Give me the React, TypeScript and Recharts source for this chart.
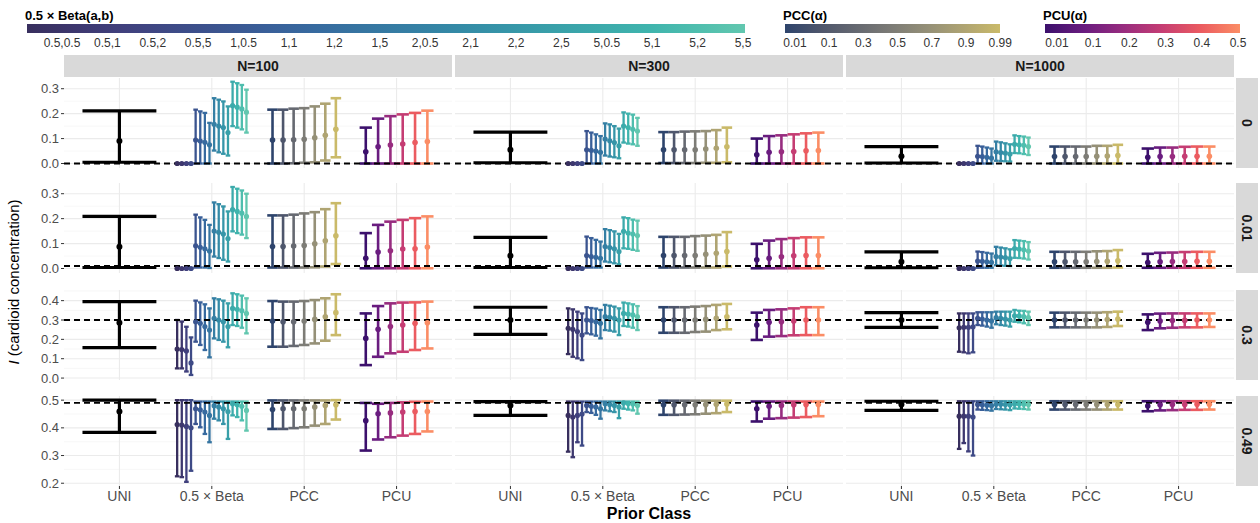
import React from 'react';
import { ScatterChart, Scatter, XAxis, YAxis, ErrorBar, ReferenceLine } from 'recharts';

// ---------- labels ----------
const nLabels = ['N=100', 'N=300', 'N=1000'];
const truthValues = [0, 0.01, 0.3, 0.49];
const truthLabels = ['0', '0.01', '0.3', '0.49'];
const classLabels = ['UNI', '0.5 × Beta', 'PCC', 'PCU'];
const betaLabels = ['0.5,0.5', '0.5,1', '0.5,2', '0.5,5', '1,0.5', '1,1', '1,2', '1,5', '2,0.5', '2,1', '2,2', '2,5', '5,0.5', '5,1', '5,2', '5,5'];
const pccLabels = ['0.01', '0.1', '0.3', '0.5', '0.7', '0.9', '0.99'];
const pcuLabels = ['0.01', '0.1', '0.2', '0.3', '0.4', '0.5'];

// ---------- data: [low, estimate, high] per truth row ----------
const uni_N100 = [[0.005, 0.09, 0.211], [0.004, 0.087, 0.209], [0.157, 0.286, 0.395], [0.384, 0.459, 0.5]];
const uni_N300 = [[0.003, 0.055, 0.126], [0.004, 0.051, 0.125], [0.226, 0.3, 0.366], [0.445, 0.481, 0.495]];
const uni_N1000 = [[0.002, 0.029, 0.068], [0.003, 0.027, 0.067], [0.262, 0.3, 0.338], [0.463, 0.484, 0.496]];

const beta_N100 = [
  [[0, 0, 0.001], [0, 0, 0.001], [0, 0, 0.001], [0, 0, 0.001],
   [0, 0.094, 0.216], [0, 0.09, 0.209], [0, 0.085, 0.203], [0, 0.075, 0.163],
   [0.052, 0.157, 0.262], [0.045, 0.15, 0.256], [0.039, 0.144, 0.249], [0.032, 0.124, 0.229],
   [0.15, 0.232, 0.328], [0.144, 0.226, 0.322], [0.137, 0.219, 0.315], [0.124, 0.206, 0.296]],
  [[0, 0, 0.001], [0, 0, 0.001], [0, 0, 0.001], [0, 0, 0.001],
   [0.004, 0.091, 0.216], [0.004, 0.085, 0.205], [0.004, 0.079, 0.195], [0.002, 0.07, 0.175],
   [0.048, 0.15, 0.265], [0.042, 0.145, 0.258], [0.035, 0.138, 0.249], [0.028, 0.12, 0.229],
   [0.149, 0.236, 0.327], [0.142, 0.229, 0.32], [0.136, 0.222, 0.313], [0.122, 0.209, 0.3]],
  [[0.05, 0.15, 0.3], [0.05, 0.147, 0.292], [0.034, 0.14, 0.265], [0.016, 0.078, 0.21],
   [0.188, 0.291, 0.4], [0.171, 0.283, 0.391], [0.145, 0.266, 0.381], [0.107, 0.248, 0.36],
   [0.205, 0.309, 0.412], [0.197, 0.3, 0.407], [0.188, 0.291, 0.4], [0.159, 0.266, 0.386],
   [0.274, 0.36, 0.438], [0.269, 0.355, 0.433], [0.26, 0.348, 0.426], [0.231, 0.334, 0.412]],
  [[0.225, 0.412, 0.5], [0.222, 0.41, 0.5], [0.205, 0.405, 0.5], [0.245, 0.4, 0.5],
   [0.414, 0.469, 0.495], [0.402, 0.465, 0.495], [0.378, 0.457, 0.495], [0.348, 0.445, 0.495],
   [0.433, 0.48, 0.495], [0.427, 0.475, 0.495], [0.414, 0.469, 0.495], [0.36, 0.459, 0.495],
   [0.445, 0.487, 0.495], [0.439, 0.483, 0.495], [0.427, 0.478, 0.495], [0.39, 0.463, 0.495]],
];
const beta_N300 = [
  [[0, 0, 0.001], [0, 0, 0.001], [0, 0, 0.001], [0, 0, 0.001],
   [0, 0.055, 0.13], [0, 0.053, 0.124], [0, 0.05, 0.117], [0, 0.045, 0.11],
   [0.032, 0.098, 0.161], [0.028, 0.091, 0.157], [0.025, 0.084, 0.15], [0.021, 0.071, 0.14],
   [0.084, 0.15, 0.205], [0.08, 0.144, 0.2], [0.077, 0.137, 0.196], [0.071, 0.13, 0.183]],
  [[0, 0, 0.001], [0, 0, 0.001], [0, 0, 0.001], [0, 0, 0.001],
   [0.004, 0.052, 0.128], [0.004, 0.048, 0.122], [0.004, 0.045, 0.115], [0.004, 0.041, 0.108],
   [0.028, 0.088, 0.158], [0.025, 0.084, 0.154], [0.021, 0.079, 0.149], [0.017, 0.068, 0.139],
   [0.081, 0.149, 0.205], [0.079, 0.142, 0.202], [0.075, 0.138, 0.196], [0.071, 0.132, 0.192]],
  [[0.124, 0.257, 0.36], [0.11, 0.252, 0.355], [0.102, 0.24, 0.343], [0.093, 0.222, 0.334],
   [0.231, 0.3, 0.366], [0.226, 0.297, 0.362], [0.219, 0.291, 0.359], [0.205, 0.283, 0.352],
   [0.248, 0.317, 0.378], [0.245, 0.314, 0.374], [0.24, 0.309, 0.369], [0.222, 0.3, 0.36],
   [0.269, 0.334, 0.39], [0.266, 0.331, 0.386], [0.26, 0.326, 0.381], [0.248, 0.317, 0.372]],
  [[0.314, 0.445, 0.495], [0.294, 0.439, 0.495], [0.348, 0.445, 0.495], [0.336, 0.45, 0.495],
   [0.457, 0.481, 0.495], [0.454, 0.478, 0.495], [0.447, 0.475, 0.495], [0.433, 0.469, 0.495],
   [0.463, 0.487, 0.495], [0.46, 0.484, 0.495], [0.457, 0.481, 0.495], [0.435, 0.475, 0.495],
   [0.469, 0.49, 0.495], [0.466, 0.488, 0.495], [0.463, 0.486, 0.495], [0.451, 0.481, 0.495]],
];
const beta_N1000 = [
  [[0, 0, 0.001], [0, 0, 0.001], [0, 0, 0.001], [0, 0, 0.001],
   [0, 0.029, 0.071], [0, 0.028, 0.068], [0, 0.025, 0.064], [0, 0.022, 0.06],
   [0.011, 0.047, 0.088], [0.01, 0.044, 0.085], [0.009, 0.042, 0.081], [0.008, 0.038, 0.077],
   [0.042, 0.077, 0.113], [0.041, 0.075, 0.11], [0.038, 0.073, 0.108], [0.034, 0.068, 0.104]],
  [[0, 0, 0.001], [0, 0, 0.001], [0, 0, 0.001], [0, 0, 0.001],
   [0.003, 0.03, 0.068], [0.003, 0.029, 0.066], [0.003, 0.027, 0.063], [0.003, 0.025, 0.06],
   [0.013, 0.048, 0.087], [0.012, 0.046, 0.084], [0.011, 0.044, 0.081], [0.01, 0.04, 0.077],
   [0.043, 0.08, 0.114], [0.042, 0.078, 0.112], [0.04, 0.075, 0.11], [0.036, 0.07, 0.106]],
  [[0.136, 0.26, 0.334], [0.133, 0.262, 0.334], [0.128, 0.262, 0.334], [0.133, 0.265, 0.334],
   [0.274, 0.309, 0.34], [0.271, 0.305, 0.34], [0.266, 0.3, 0.34], [0.26, 0.295, 0.34],
   [0.278, 0.312, 0.343], [0.274, 0.309, 0.343], [0.271, 0.305, 0.343], [0.266, 0.3, 0.343],
   [0.291, 0.322, 0.352], [0.288, 0.321, 0.348], [0.283, 0.317, 0.347], [0.274, 0.312, 0.343]],
  [[0.324, 0.442, 0.496], [0.345, 0.442, 0.496], [0.315, 0.442, 0.496], [0.3, 0.439, 0.496],
   [0.466, 0.484, 0.496], [0.465, 0.483, 0.496], [0.464, 0.482, 0.496], [0.462, 0.48, 0.496],
   [0.468, 0.485, 0.496], [0.467, 0.485, 0.496], [0.466, 0.484, 0.496], [0.464, 0.483, 0.496],
   [0.47, 0.486, 0.496], [0.469, 0.486, 0.496], [0.468, 0.485, 0.496], [0.466, 0.484, 0.496]],
];

const pcc_N100 = [
  [[0, 0.094, 0.216], [0, 0.094, 0.216], [0.001, 0.095, 0.22], [0.003, 0.097, 0.222], [0.005, 0.103, 0.229], [0.012, 0.113, 0.24], [0.025, 0.137, 0.262]],
  [[0.004, 0.088, 0.213], [0.004, 0.088, 0.213], [0.004, 0.09, 0.216], [0.004, 0.092, 0.221], [0.005, 0.099, 0.226], [0.008, 0.111, 0.238], [0.018, 0.131, 0.262]],
  [[0.162, 0.295, 0.398], [0.162, 0.291, 0.395], [0.166, 0.291, 0.395], [0.171, 0.295, 0.398], [0.179, 0.303, 0.403], [0.193, 0.317, 0.412], [0.222, 0.338, 0.433]],
  [[0.396, 0.466, 0.499], [0.396, 0.469, 0.499], [0.399, 0.469, 0.499], [0.402, 0.469, 0.499], [0.408, 0.475, 0.499], [0.414, 0.481, 0.499], [0.43, 0.483, 0.5]],
];
const pcc_N300 = [
  [[0.002, 0.055, 0.126], [0.002, 0.055, 0.126], [0.002, 0.055, 0.128], [0.002, 0.055, 0.129], [0.003, 0.058, 0.13], [0.003, 0.061, 0.134], [0.005, 0.067, 0.144]],
  [[0.004, 0.052, 0.127], [0.004, 0.052, 0.127], [0.004, 0.052, 0.127], [0.004, 0.052, 0.13], [0.004, 0.057, 0.132], [0.004, 0.061, 0.135], [0.008, 0.068, 0.146]],
  [[0.234, 0.3, 0.366], [0.234, 0.3, 0.366], [0.234, 0.3, 0.366], [0.238, 0.3, 0.369], [0.24, 0.303, 0.372], [0.248, 0.309, 0.378], [0.252, 0.317, 0.383]],
  [[0.447, 0.483, 0.498], [0.447, 0.483, 0.498], [0.448, 0.483, 0.498], [0.449, 0.483, 0.498], [0.451, 0.484, 0.498], [0.453, 0.485, 0.498], [0.457, 0.486, 0.498]],
];
const pcc_N1000 = [
  [[0, 0.028, 0.068], [0, 0.028, 0.068], [0, 0.028, 0.068], [0, 0.028, 0.068], [0, 0.029, 0.071], [0, 0.03, 0.071], [0, 0.032, 0.075]],
  [[0.003, 0.027, 0.067], [0.003, 0.027, 0.067], [0.003, 0.027, 0.067], [0.003, 0.027, 0.067], [0.003, 0.028, 0.069], [0.003, 0.029, 0.07], [0.004, 0.031, 0.074]],
  [[0.262, 0.3, 0.338], [0.262, 0.3, 0.338], [0.262, 0.3, 0.338], [0.262, 0.3, 0.338], [0.262, 0.3, 0.338], [0.264, 0.302, 0.34], [0.269, 0.305, 0.343]],
  [[0.466, 0.484, 0.496], [0.466, 0.484, 0.496], [0.466, 0.484, 0.496], [0.466, 0.484, 0.496], [0.466, 0.484, 0.496], [0.466, 0.484, 0.496], [0.466, 0.484, 0.496]],
];

const pcu_N100 = [
  [[0, 0.047, 0.144], [0, 0.067, 0.18], [0, 0.074, 0.19], [0, 0.078, 0.197], [0, 0.084, 0.203], [0, 0.088, 0.212]],
  [[0.001, 0.041, 0.142], [0.001, 0.066, 0.175], [0.001, 0.071, 0.188], [0.001, 0.078, 0.195], [0.001, 0.079, 0.202], [0.001, 0.086, 0.209]],
  [[0.067, 0.205, 0.334], [0.11, 0.252, 0.372], [0.128, 0.266, 0.386], [0.136, 0.274, 0.39], [0.145, 0.283, 0.391], [0.153, 0.286, 0.395]],
  [[0.318, 0.426, 0.49], [0.358, 0.451, 0.487], [0.366, 0.454, 0.49], [0.372, 0.457, 0.492], [0.378, 0.459, 0.494], [0.387, 0.459, 0.495]],
];
const pcu_N300 = [
  [[0, 0.035, 0.1], [0, 0.045, 0.11], [0, 0.047, 0.113], [0, 0.048, 0.117], [0, 0.051, 0.121], [0, 0.052, 0.124]],
  [[0.001, 0.035, 0.099], [0.001, 0.041, 0.112], [0.001, 0.047, 0.118], [0.001, 0.051, 0.122], [0.001, 0.052, 0.125], [0.001, 0.052, 0.125]],
  [[0.197, 0.274, 0.338], [0.214, 0.288, 0.352], [0.217, 0.291, 0.355], [0.221, 0.295, 0.36], [0.222, 0.3, 0.366], [0.222, 0.3, 0.366]],
  [[0.423, 0.469, 0.495], [0.433, 0.478, 0.495], [0.435, 0.481, 0.495], [0.437, 0.483, 0.495], [0.439, 0.484, 0.495], [0.442, 0.484, 0.495]],
];
const pcu_N1000 = [
  [[0, 0.025, 0.06], [0, 0.028, 0.064], [0, 0.028, 0.064], [0, 0.029, 0.067], [0, 0.029, 0.068], [0, 0.029, 0.068]],
  [[0.003, 0.024, 0.059], [0.003, 0.027, 0.063], [0.003, 0.028, 0.064], [0.003, 0.028, 0.066], [0.003, 0.029, 0.067], [0.003, 0.029, 0.067]],
  [[0.248, 0.288, 0.329], [0.257, 0.295, 0.333], [0.26, 0.297, 0.334], [0.262, 0.298, 0.334], [0.262, 0.3, 0.334], [0.264, 0.3, 0.334]],
  [[0.46, 0.479, 0.496], [0.463, 0.483, 0.496], [0.464, 0.484, 0.496], [0.465, 0.484, 0.496], [0.465, 0.485, 0.496], [0.466, 0.485, 0.496]],
];

const uniByN = [uni_N100, uni_N300, uni_N1000];
const betaByN = [beta_N100, beta_N300, beta_N1000];
const pccByN = [pcc_N100, pcc_N300, pcc_N1000];
const pcuByN = [pcu_N100, pcu_N300, pcu_N1000];

// ---------- palettes ----------
const makoStops = ['#0B0405', '#2E1E3C', '#413D7B', '#37659E', '#348FA7', '#40B7AD', '#8AD9B1', '#DEF5E5'];
const cividisStops = ['#00204D', '#00336F', '#39486B', '#575C6D', '#707173', '#8A8779', '#A69D75', '#C4B56C', '#E4CF5B', '#FFEA46'];
const magmaStops = ['#000004', '#180F3E', '#451077', '#721F81', '#9F2F7F', '#CD4071', '#F1605D', '#FD9567', '#FEC98D', '#FCFDBF'];

function hexToRgb(h: string) {
  const v = parseInt(h.slice(1), 16);
  return [(v >> 16) & 255, (v >> 8) & 255, v & 255];
}
function interp(stops: string[], t: number) {
  const p = t * (stops.length - 1);
  const i = Math.min(stops.length - 2, Math.floor(p));
  const f = p - i;
  const a = hexToRgb(stops[i]);
  const b = hexToRgb(stops[i + 1]);
  const c = a.map((x, k) => Math.round(x + (b[k] - x) * f));
  return `rgb(${c[0]},${c[1]},${c[2]})`;
}
function palette(stops: string[], n: number, t0: number, t1: number) {
  return Array.from({ length: n }, (_, i) => interp(stops, t0 + ((t1 - t0) * i) / (n - 1)));
}
const betaColors = palette(makoStops, betaLabels.length, 0.22, 0.78);
const pccColors = palette(cividisStops, pccLabels.length, 0.2, 0.8);
const pcuColors = palette(magmaStops, pcuLabels.length, 0.2, 0.76);

// ---------- layout ----------
const FONT = '"Liberation Sans", Arial, Helvetica, sans-serif';
const PW = 388;
const PH = 90;
const colLeft = [64, 455, 846];
const rowTop = [78, 183, 290, 396];
const rowDomains: [number, number][] = [[-0.018, 0.343], [-0.018, 0.343], [-0.01, 0.455], [0.19, 0.515]];
const rowMajor = [[0, 0.1, 0.2, 0.3], [0, 0.1, 0.2, 0.3], [0, 0.1, 0.2, 0.3, 0.4], [0.2, 0.3, 0.4, 0.5]];
const rowMinor = [[0.05, 0.15, 0.25], [0.05, 0.15, 0.25], [0.05, 0.15, 0.25, 0.35, 0.45], [0.25, 0.35, 0.45]];
const DODGE = 0.8;
const X_DOMAIN: [number, number] = [-0.6, 3.6];
const PX_PER_UNIT = PW / (X_DOMAIN[1] - X_DOMAIN[0]);

type Item = { key: string; x: number; lo: number; mid: number; hi: number; color: string; cap: number; sw: number; r: number };

function buildItems(c: number, r: number): Item[] {
  const groups = [
    { rows: [uniByN[c][r]], colors: ['#000000'], sw: 3.2, rad: 3 },
    { rows: betaByN[c][r], colors: betaColors, sw: 2.3, rad: 2.6 },
    { rows: pccByN[c][r], colors: pccColors, sw: 2.6, rad: 2.8 },
    { rows: pcuByN[c][r], colors: pcuColors, sw: 2.6, rad: 2.8 },
  ];
  const items: Item[] = [];
  groups.forEach((g, gi) => {
    const k = g.rows.length;
    const slot = DODGE / k;
    g.rows.forEach((v, i) => {
      items.push({
        key: `${gi}-${i}`,
        x: gi - DODGE / 2 + (i + 0.5) * slot,
        lo: v[0], mid: v[1], hi: v[2],
        color: g.colors[i],
        cap: slot * PX_PER_UNIT,
        sw: g.sw,
        r: g.rad,
      });
    });
  });
  return items;
}

function Panel({ c, r }: { c: number; r: number }) {
  const showY = c === 0;
  const showX = r === 3;
  const yw = showY ? 64 : 0;
  const xh = showX ? 28 : 0;
  const items = buildItems(c, r);
  return (
    <div style={{ position: 'absolute', left: colLeft[c] - yw, top: rowTop[r] }}>
      <ScatterChart width={PW + yw} height={PH + xh} margin={{ top: 0, right: 0, bottom: 0, left: 0 }}>
        <XAxis
          type="number" dataKey="x" domain={X_DOMAIN} allowDataOverflow ticks={[0, 1, 2, 3]} interval={0}
          tickFormatter={(v: number) => classLabels[v] ?? ''}
          hide={!showX} height={xh} axisLine={false} tickSize={3} tickMargin={2}
          tickLine={{ stroke: '#333333', strokeWidth: 1 }}
          tick={{ fill: '#4d4d4d', fontSize: 14, fontFamily: FONT }}
        />
        <YAxis
          type="number" dataKey="y" domain={rowDomains[r]} allowDataOverflow ticks={rowMajor[r]} interval={0}
          tickFormatter={(v: number) => v.toFixed(1)}
          hide={!showY} width={yw} axisLine={false} tickSize={3} tickMargin={2}
          tickLine={{ stroke: '#333333', strokeWidth: 1 }}
          tick={{ fill: '#4d4d4d', fontSize: 13, fontFamily: FONT }}
        />
        {rowMinor[r].map((v) => (
          <ReferenceLine key={`mn${v}`} y={v} stroke="#f2f2f2" strokeWidth={0.6} />
        ))}
        {rowMajor[r].map((v) => (
          <ReferenceLine key={`mj${v}`} y={v} stroke="#ebebeb" strokeWidth={1.1} />
        ))}
        {[0, 1, 2, 3].map((v) => (
          <ReferenceLine key={`vx${v}`} x={v} stroke="#ebebeb" strokeWidth={1.1} />
        ))}
        {items.map((it) => (
          <Scatter
            key={it.key}
            data={[{ x: it.x, y: it.mid, err: [it.mid - it.lo, it.hi - it.mid] }]}
            dataKey="y"
            fill={it.color}
            isAnimationActive={false}
            shape={(p: any) => <circle cx={p.cx} cy={p.cy} r={it.r} fill={it.color} />}
          >
            <ErrorBar dataKey="err" direction="y" width={it.cap / 2} stroke={it.color} strokeWidth={it.sw} isAnimationActive={false} />
          </Scatter>
        ))}
        <ReferenceLine y={truthValues[r]} stroke="#000000" strokeWidth={1.8} strokeDasharray="6 4" />
      </ScatterChart>
    </div>
  );
}

function GradientLegend({ id, title, labels, colors, x, w, labelX }: { id: string; title: string; labels: string[]; colors: string[]; x: number; w: number; labelX: number[] }) {
  return (
    <g>
      <defs>
        <linearGradient id={id} x1="0" x2="1" y1="0" y2="0">
          {colors.map((col, i) => (
            <stop key={i} offset={`${(i / (colors.length - 1)) * 100}%`} stopColor={col} />
          ))}
        </linearGradient>
      </defs>
      <text x={x - 2} y={20} fontSize={13} fontWeight="bold" fill="#000" fontFamily={FONT}>{title}</text>
      <rect x={x} y={24} width={w} height={9} fill={`url(#${id})`} />
      {labels.map((l, i) => (
        <text key={l + i} x={labelX[i]} y={47} fontSize={12} fill="#333" textAnchor="middle" fontFamily={FONT}>{l}</text>
      ))}
    </g>
  );
}

export default function App() {
  const betaLX = betaLabels.map((_, i) => 62 + i * 45.4);
  const pccLX = pccLabels.map((_, i) => 795 + i * 34.2);
  const pcuLX = pcuLabels.map((_, i) => 1057 + i * 36.2);
  return (
    <div style={{ position: 'absolute', left: 0, top: 0, width: 1260, height: 523, background: '#fff', fontFamily: FONT, overflow: 'hidden' }}>
      <style>{'.recharts-wrapper, .recharts-surface { overflow: visible !important; }'}</style>
      <svg width={1260} height={54} style={{ position: 'absolute', left: 0, top: 0 }}>
        <GradientLegend id="gBeta" title="0.5 × Beta(a,b)" labels={betaLabels} colors={betaColors} x={27} w={718} labelX={betaLX} />
        <GradientLegend id="gPcc" title="PCC(α)" labels={pccLabels} colors={pccColors} x={785} w={215} labelX={pccLX} />
        <GradientLegend id="gPcu" title="PCU(α)" labels={pcuLabels} colors={pcuColors} x={1045} w={195} labelX={pcuLX} />
      </svg>
      {nLabels.map((n, c) => (
        <div key={n} style={{ position: 'absolute', left: colLeft[c], top: 55, width: PW, height: 22, background: '#d9d9d9', color: '#1a1a1a', fontWeight: 'bold', fontSize: 14, lineHeight: '22px', textAlign: 'center' }}>{n}</div>
      ))}
      {truthLabels.map((t, r) => (
        <div key={t} style={{ position: 'absolute', left: 1236, top: rowTop[r], width: 22, height: PH, background: '#d9d9d9' }}>
          <div style={{ position: 'absolute', left: 11, top: PH / 2, transform: 'translate(-50%, -50%) rotate(90deg)', fontWeight: 'bold', fontSize: 14, color: '#1a1a1a', whiteSpace: 'nowrap' }}>{t}</div>
        </div>
      ))}
      {[0, 1, 2].map((c) => [0, 1, 2, 3].map((r) => <Panel key={`${c}-${r}`} c={c} r={r} />))}
      <div style={{ position: 'absolute', left: 13, top: 282, transform: 'translate(-50%, -50%) rotate(-90deg)', fontSize: 15, color: '#000', whiteSpace: 'nowrap' }}>
        <i>I</i> (cardioid concentration)
      </div>
      <div style={{ position: 'absolute', left: 649, top: 505, transform: 'translateX(-50%)', fontSize: 16, fontWeight: 'bold', color: '#000', whiteSpace: 'nowrap' }}>Prior Class</div>
    </div>
  );
}
